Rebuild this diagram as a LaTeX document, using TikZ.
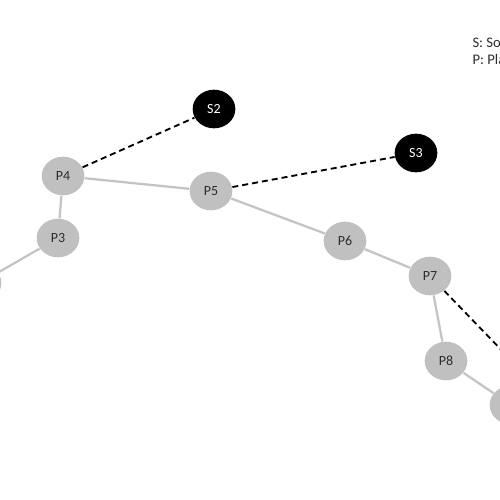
\documentclass[tikz,border=0pt]{standalone}
\usepackage{fontspec}
\setmainfont{Carlito}
\usetikzlibrary{shapes.geometric}

\definecolor{nodegray}{RGB}{192,192,192}
\definecolor{linkgray}{RGB}{196,196,196}
\definecolor{labelgray}{RGB}{45,45,45}

\tikzset{every picture/.style={line width=0.75pt}}
\tikzset{
  pnode/.style={ellipse,fill=nodegray,draw=none,minimum width=32pt,minimum height=29pt,inner sep=0pt,text=labelgray,font=\fontsize{10.5}{12}\selectfont},
  snode/.style={pnode,fill=black,text=white},
  link/.style={draw=linkgray,line width=1.7pt},
  sensorlink/.style={draw=black,line width=1.4pt,dash pattern=on 4.5pt off 3pt},
  legendtext/.style={anchor=north west,inner sep=0.75pt,text=labelgray,font=\fontsize{11}{13}\selectfont}
}

\begin{document}
\begin{tikzpicture}[x=0.75pt,y=0.75pt,yscale=-1,xscale=1]
\useasboundingbox (0,0) rectangle (500,500);
\clip (0,0) rectangle (500,500);

%Shape: Ellipse [id:sensors]
\node [snode] (s2) at (214,109) {S2};
\node [snode] (s3) at (416,153) {S3};
%Shape: Ellipse [id:points]
\node [pnode] (p2) at (-20,283) {P2};
\node [pnode] (p3) at (58,238) {P3};
\node [pnode] (p4) at (63,176) {P4};
\node [pnode] (p5) at (211,191) {P5};
\node [pnode] (p6) at (345,241) {P6};
\node [pnode] (p7) at (430,276) {P7};
\node [pnode] (p8) at (446,361) {P8};
\node [pnode] (p9) at (511,405) {P9};
\coordinate (s4) at (540,390);

%Straight Lines [id:links]
\draw [link] (p2) -- (p3);
\draw [link] (p3) -- (p4);
\draw [link] (p4) -- (p5);
\draw [link] (p5) -- (p6);
\draw [link] (p6) -- (p7);
\draw [link] (p7) -- (p8);
\draw [link] (p8) -- (p9);
%Straight Lines [id:sensorlinks]
\draw [sensorlink] (p4) -- (s2);
\draw [sensorlink] (p5) -- (s3);
\draw [sensorlink] (p7) -- (s4);

% Text Node
\node [legendtext] (legends) at (471,36) {S: Source};
% Text Node
\node [legendtext] (legendp) at (471,53) {P: Place};

\end{tikzpicture}
\end{document}
